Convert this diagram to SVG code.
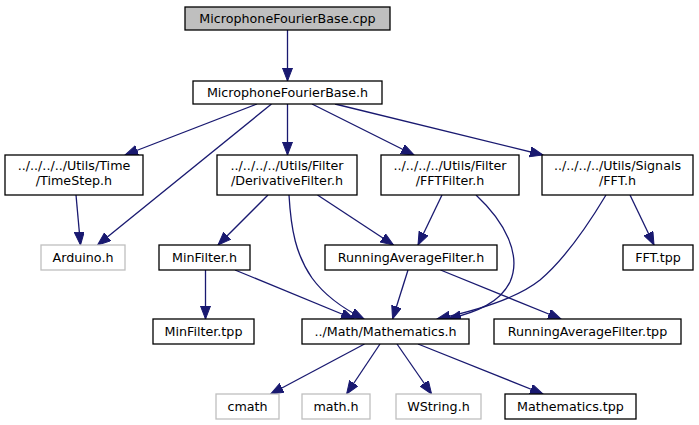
<svg xmlns="http://www.w3.org/2000/svg" width="699" height="425" viewBox="0 0 699 425">
<defs>
<marker id="ah" markerUnits="userSpaceOnUse" markerWidth="14" markerHeight="11" refX="13" refY="5" orient="auto">
<path d="M0,0 L13,5 L0,10 z" fill="#191970" stroke="#191970" stroke-width="1"/>
</marker>
<style>
.n rect{fill:#ffffff;stroke:#000000;stroke-width:1.3}
.n.ext rect{stroke:#bfbfbf}
.n.root rect{fill:#bfbfbf}
text{font-family:"DejaVu Sans","Liberation Sans",sans-serif;font-size:12.7px;fill:#000000;text-anchor:middle}
#edges path{fill:none;stroke:#191970;stroke-width:1.3;marker-end:url(#ah)}
</style>
</defs>
<rect width="699" height="425" fill="#ffffff"/>
<g id="edges">
<path d="M287.5,30 L287.5,81"/>
<path d="M257,104 L125,155"/>
<path d="M271.5,104 L97.5,245"/>
<path d="M287.5,104 L287.5,155"/>
<path d="M312,104 L414,155"/>
<path d="M335,104 L543,155"/>
<path d="M76,195 L80.5,245"/>
<path d="M268,195 L218,245"/>
<path d="M289,195 C291,230 296,255 312,278 C325,296 342,308 364,319"/>
<path d="M317.5,195 L393.5,245"/>
<path d="M442,195 L418,245"/>
<path d="M476,195 C505,222 522,255 510,282 C500,302 478,312 448,319"/>
<path d="M606,195 C588,225 566,258 540,280 C515,300 470,312 437,319"/>
<path d="M630,195 L654,245"/>
<path d="M205.5,270 L205.5,319"/>
<path d="M235,270 L354,319"/>
<path d="M408,270 L392.6,319"/>
<path d="M440.5,270 L561,319"/>
<path d="M364.5,344 L270.6,394"/>
<path d="M380,344 L346.6,394"/>
<path d="M397,344 L431.6,394"/>
<path d="M418,344 L543,394"/>
</g>
<g id="n_cpp" class="n root"><rect x="185" y="7" width="205" height="23"/><text x="287.5" y="23">MicrophoneFourierBase.cpp</text></g>
<g id="n_h" class="n"><rect x="193" y="81" width="189" height="23"/><text x="287.5" y="97">MicrophoneFourierBase.h</text></g>
<g id="n_timestep" class="n"><rect x="5" y="155" width="138" height="40"/><text x="74" y="170">../../../../Utils/Time</text><text x="74" y="185">/TimeStep.h</text></g>
<g id="n_deriv" class="n"><rect x="217" y="155" width="140" height="40"/><text x="287" y="170">../../../../Utils/Filter</text><text x="287" y="185">/DerivativeFilter.h</text></g>
<g id="n_fftfilter" class="n"><rect x="381" y="155" width="138" height="40"/><text x="450" y="170">../../../../Utils/Filter</text><text x="450" y="185">/FFTFilter.h</text></g>
<g id="n_ffth" class="n"><rect x="542" y="155" width="151" height="40"/><text x="617.5" y="170">../../../../Utils/Signals</text><text x="617.5" y="185">/FFT.h</text></g>
<g id="n_arduino" class="n ext"><rect x="41" y="245" width="84" height="25"/><text x="83" y="262">Arduino.h</text></g>
<g id="n_minfilter" class="n"><rect x="159" y="245" width="91" height="25"/><text x="204.5" y="262">MinFilter.h</text></g>
<g id="n_rafh" class="n"><rect x="325" y="245" width="172" height="25"/><text x="411" y="262">RunningAverageFilter.h</text></g>
<g id="n_ffttpp" class="n"><rect x="623" y="245" width="70" height="25"/><text x="658" y="262">FFT.tpp</text></g>
<g id="n_minfiltertpp" class="n"><rect x="153" y="319" width="101" height="25"/><text x="203.5" y="336">MinFilter.tpp</text></g>
<g id="n_math" class="n"><rect x="302" y="319" width="167" height="25"/><text x="385.5" y="336">../Math/Mathematics.h</text></g>
<g id="n_raftpp" class="n"><rect x="494" y="319" width="187" height="25"/><text x="587.5" y="336">RunningAverageFilter.tpp</text></g>
<g id="n_cmath" class="n ext"><rect x="216" y="394" width="63" height="25"/><text x="247.5" y="411">cmath</text></g>
<g id="n_mathh" class="n ext"><rect x="302" y="394" width="68" height="25"/><text x="336" y="411">math.h</text></g>
<g id="n_wstring" class="n ext"><rect x="396" y="394" width="85" height="25"/><text x="438.5" y="411">WString.h</text></g>
<g id="n_mathtpp" class="n"><rect x="505" y="394" width="131" height="25"/><text x="570.5" y="411">Mathematics.tpp</text></g>
</svg>
